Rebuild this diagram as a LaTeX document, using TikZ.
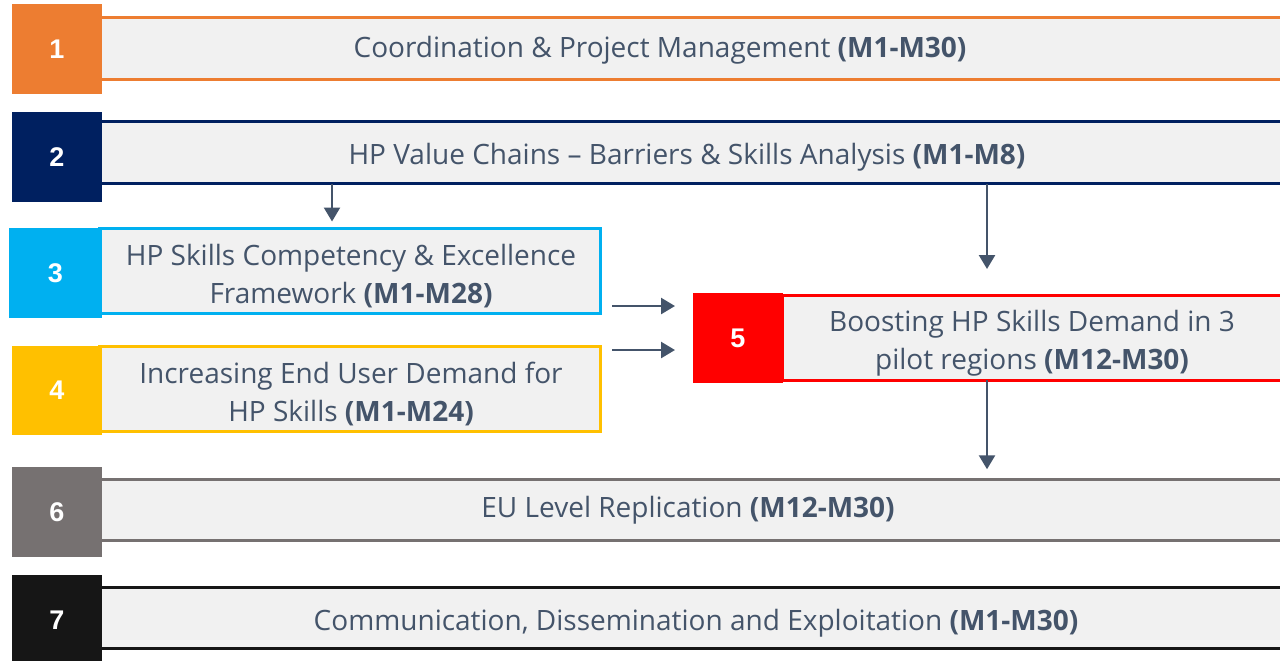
\documentclass[tikz,border=0pt]{standalone}
\usepackage{fontspec}
\setmainfont{Open Sans}
\newfontfamily\numfont{Liberation Sans}
\usetikzlibrary{arrows.meta}
\definecolor{cOrange}{HTML}{ED7D31}
\definecolor{cNavy}{HTML}{002060}
\definecolor{cBlue}{HTML}{00B0F0}
\definecolor{cYellow}{HTML}{FFC000}
\definecolor{cRed}{HTML}{FF0000}
\definecolor{cGray}{HTML}{767171}
\definecolor{cBlack}{HTML}{161616}
\definecolor{cFill}{HTML}{F1F1F1}
\definecolor{cText}{HTML}{44546A}
\tikzset{
  bar/.style={draw=#1, line width=3pt, fill=cFill, inner sep=0pt, outer sep=0pt},
  numsq/.style={fill=#1, inner sep=0pt, outer sep=0pt, minimum width=90pt, minimum height=90pt,
    text=white, font=\numfont\bfseries\fontsize{27}{32}\selectfont},
  lbl/.style={text=cText, font=\fontsize{28}{38}\selectfont, align=center, inner sep=0pt},
  arr/.style={draw=cText, line width=2.5pt, -{Triangle[width=16pt,length=14pt]}},
}
\begin{document}
\begin{tikzpicture}[x=1pt,y=-1pt]
\useasboundingbox (0,0) rectangle (1280,661);
\clip (0,0) rectangle (1280,661);
\fill[white] (0,0) rectangle (1280,661);
% bars
\node[bar=cOrange, minimum width=1260pt, minimum height=62pt] (b1) at (670,48.5) {};
\node[bar=cNavy, minimum width=1260pt, minimum height=62pt] (b2) at (670,152.5) {};
\node[bar=cBlue, minimum width=501pt, minimum height=85pt] (b3) at (349.5,271) {};
\node[bar=cYellow, minimum width=501pt, minimum height=84.5pt] (b4) at (349.5,388.75) {};
\node[bar=cRed, minimum width=510pt, minimum height=85pt] (b5) at (1037,337.5) {};
\node[bar=cGray, minimum width=1260pt, minimum height=61.5pt] (b6) at (670,510) {};
\node[bar=cBlack, minimum width=1260pt, minimum height=61.5pt] (b7) at (670,618) {};
% number squares
\node[numsq=cOrange] (s1) at (57,49) {1};
\node[numsq=cNavy] (s2) at (57,157) {2};
\node[numsq=cBlue, minimum width=93pt] (s3) at (55.5,273) {3};
\node[numsq=cYellow, minimum height=89pt] (s4) at (57,390.5) {4};
\node[numsq=cRed] (s5) at (738,338) {5};
\node[numsq=cGray] (s6) at (57,512) {6};
\node[numsq=cBlack] (s7) at (57,620) {7};
% texts
\node[lbl] (t1) at (660,50) {Coordination \& Project Management \textbf{(M1-M30)}};
\node[lbl] (t2) at (687,157) {HP Value Chains -- Barriers \& Skills Analysis \textbf{(M1-M8)}};
\node[lbl] (t3) at (351,276) {HP Skills Competency \& Excellence\\Framework \textbf{(M1-M28)}};
\node[lbl] (t4) at (351,394) {Increasing End User Demand for\\HP Skills \textbf{(M1-M24)}};
\node[lbl] (t5) at (1032,343) {Boosting HP Skills Demand in 3\\pilot regions \textbf{(M12-M30)}};
\node[lbl] (t6) at (688,510) {EU Level Replication \textbf{(M12-M30)}};
\node[lbl] (t7) at (696,623) {Communication, Dissemination and Exploitation \textbf{(M1-M30)}};
% arrows
\coordinate (x332) at (332,0);
\coordinate (x987) at (987,0);
\coordinate (y306) at (612,306);
\coordinate (y350) at (612,350);
\draw[arr, shorten >=7pt] (b2.south -| x332) -- (b3.north -| x332);
\draw[arr, shorten >=26pt] (b2.south -| x987) -- (b5.north -| x987);
\draw[arr, shorten >=18pt] (y306) -- (y306 -| s5.west);
\draw[arr, shorten >=18pt] (y350) -- (y350 -| s5.west);
\draw[arr, shorten >=10pt] (b5.south -| x987) -- (b6.north -| x987);
\end{tikzpicture}
\end{document}
